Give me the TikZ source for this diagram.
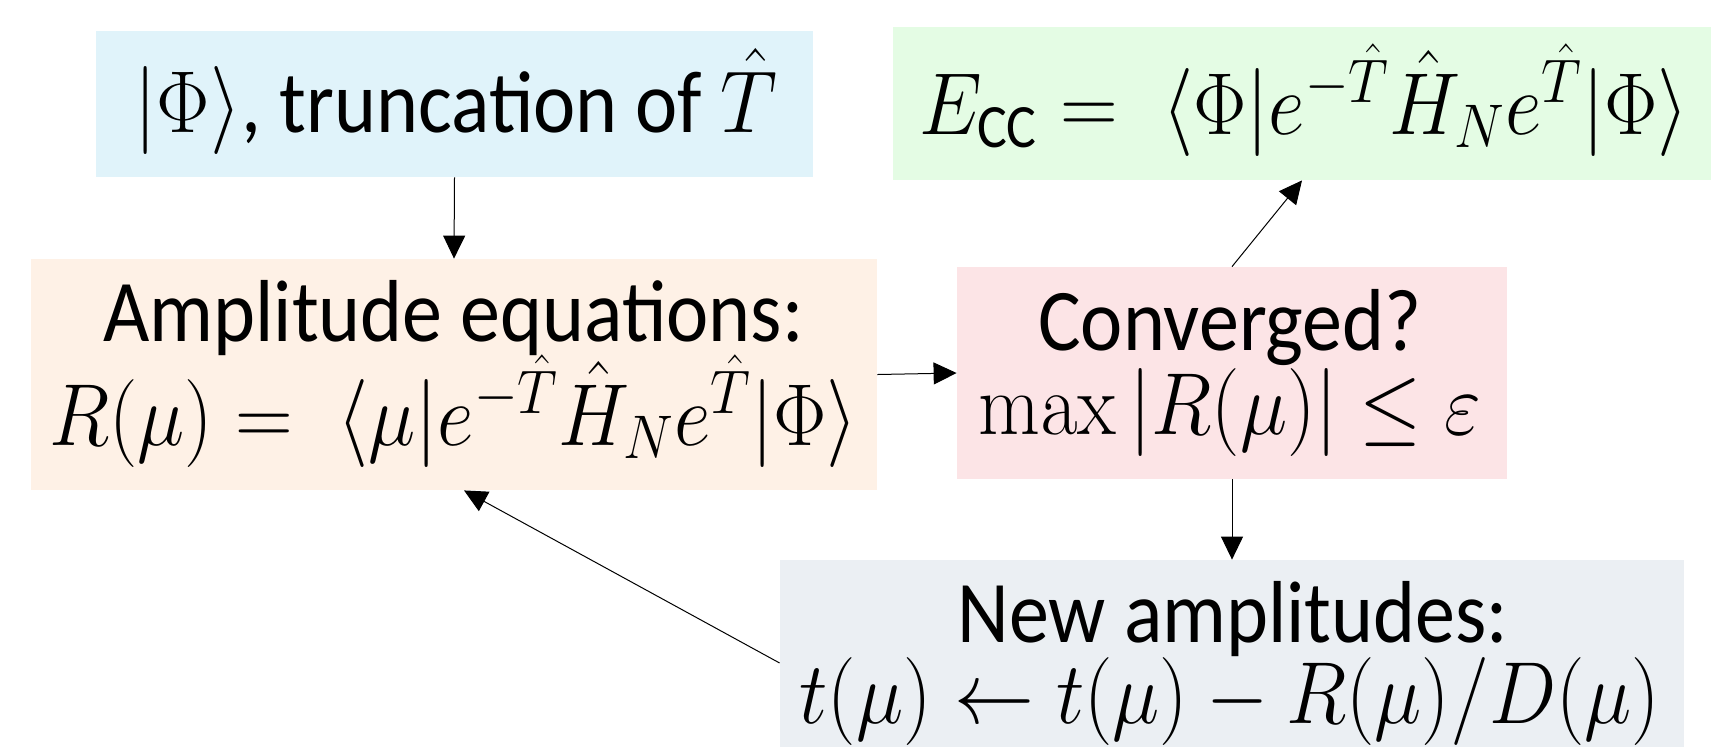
\RequirePackage{fix-cm}
\documentclass[tikz,border=0pt]{standalone}
\usepackage{amsmath}
\usepackage{graphicx}
\usepackage[no-math]{fontspec}
\setmainfont{Carlito}
\usetikzlibrary{arrows.meta}
\definecolor{cblue}{HTML}{E0F3FA}
\definecolor{cgreen}{HTML}{E4FCE4}
\definecolor{corange}{HTML}{FEF1E6}
\definecolor{cred}{HTML}{FCE4E6}
\definecolor{cgray}{HTML}{EBEFF3}
\newcommand\vstr[1]{\scalebox{1}[1.1]{#1}}
\begin{document}
\begin{tikzpicture}[x=0.5pt,y=-0.5pt,
  box/.style={inner sep=0pt, draw=none},
  txt/.style={inner sep=0pt, anchor=base, font=\fontsize{40}{44}\selectfont},
  arr/.style={-{Triangle[length=11.5pt,width=11pt]}, line width=0.5pt}]
\useasboundingbox (0,0) rectangle (1711,746);
\clip (0,0) rectangle (1711,746);
% boxes
\node[box, fill=cblue, minimum width=358.5pt, minimum height=73pt] (init) at (454.5,104) {};
\node[box, fill=cgreen, minimum width=409pt, minimum height=76.5pt] (energy) at (1302,103.5) {};
\node[box, fill=corange, minimum width=423pt, minimum height=115.5pt] (amp) at (454,374.5) {};
\node[box, fill=cred, minimum width=275pt, minimum height=106pt] (conv) at (1232,373) {};
\node[box, fill=cgray, minimum width=452pt, minimum height=103pt] (new) at (1232,663) {};
% texts
\node[txt] (initT) at (456,132) {\vstr{$|\Phi\rangle$, truncation of $\hat{T}$}};
\node[txt] (energyT) at (1304,134) {\vstr{$E_{\text{CC}} = \;\langle\Phi|e^{-\hat{T}}\hat{H}_N e^{\hat{T}}|\Phi\rangle$}};
\node[txt] (ampT1) at (453.5,341) {\vstr{Amplitude equations:}};
\node[txt] (ampT2) at (453.5,445) {\vstr{$R(\mu) = \;\langle\mu|e^{-\hat{T}}\hat{H}_N e^{\hat{T}}|\Phi\rangle$}};
\node[txt] (convT1) at (1230,350) {\vstr{Converged?}};
\node[txt] (convT2) at (1230,434) {\vstr{$\max|R(\mu)| \le \varepsilon$}};
\node[txt] (newT1) at (1233,642) {\vstr{New amplitudes:}};
\node[txt] (newT2) at (1230,723) {\vstr{$t(\mu) \leftarrow t(\mu) - R(\mu)/D(\mu)$}};
% connectors
\draw[arr] (init.south) -- (amp.north);
\draw[arr] (amp.east) -- (conv.west);
\draw[arr] (conv.north) -- (energy.south);
\draw[arr] (conv.south) -- (new.north);
\draw[arr] (new.west) -- ([xshift=5pt]amp.south);
\end{tikzpicture}
\end{document}
